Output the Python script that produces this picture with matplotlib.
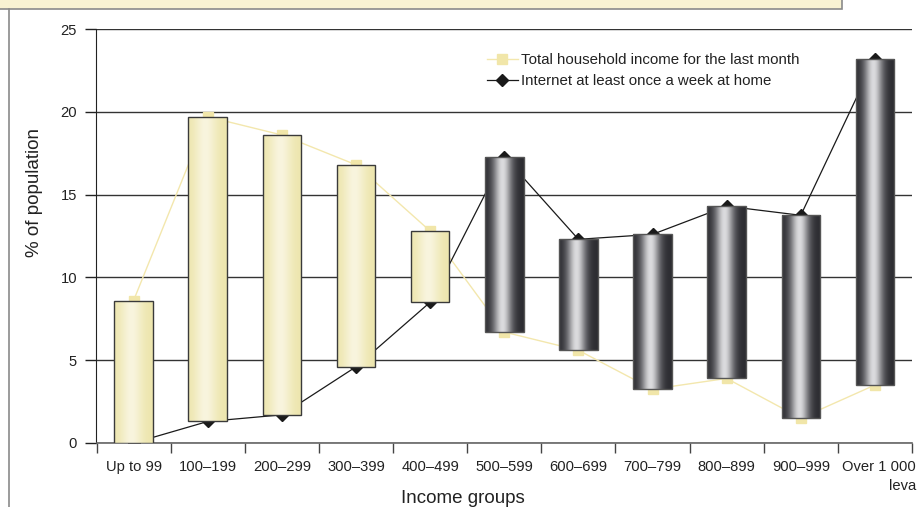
import numpy as np
import matplotlib
matplotlib.use("Agg")
import matplotlib.pyplot as plt
from matplotlib.patches import Rectangle
from matplotlib.lines import Line2D

plt.rcParams['font.family'] = ['Liberation Sans', 'DejaVu Sans']

# Income groups (leva per month)
categories = ["Up to 99", "100–199", "200–299", "300–399", "400–499", "500–599",
              "600–699", "700–799", "800–899", "900–999", "Over 1 000\nleva"]
# % of population by total household income for the last month
income_share = [8.6, 19.7, 18.6, 16.8, 12.8, 6.7, 5.6, 3.25, 3.9, 1.5, 3.5]
# % of population using the Internet at least once a week at home
internet_share = [0.0, 1.3, 1.7, 4.6, 8.5, 17.3, 12.3, 12.6, 14.3, 13.75, 23.2]

y_ticks = [0, 5, 10, 15, 20, 25]

fig = plt.figure(figsize=(9.2, 5.07), dpi=100)
ax = fig.add_axes([96.5 / 920, 1 - 443 / 507, 815.5 / 920, 414 / 507])

x = np.arange(len(categories))
inc = np.array(income_share)
net = np.array(internet_share)
lo = np.minimum(inc, net)
hi = np.maximum(inc, net)

# series lines and markers (behind the up/down bars)
ax.plot(x, inc, color='#f3e7ad', lw=1.0, marker='s', ms=7.5, mfc='#f1e6a9',
        mec='#f1e6a9', zorder=2)
ax.plot(x, net, color='#1a1a1a', lw=0.9, marker='D', ms=6.5, mfc='#1a1a1a',
        mec='#1a1a1a', zorder=2)

# up/down bars with horizontal shading
bw = 0.52
bars = ax.bar(x, hi - lo, bottom=lo, width=bw, facecolor='none',
              edgecolor='#3a3a3a', lw=1.0, zorder=4)

t = np.linspace(0, 1, 256)
# light bar: soft yellow with paler centre
light_edge = np.array([0.93, 0.90, 0.68])
light_mid = np.array([0.975, 0.96, 0.87])
w_l = np.exp(-((t - 0.45) / 0.28) ** 2)
grad_light = light_edge[None, :] * (1 - w_l[:, None]) + light_mid[None, :] * w_l[:, None]
# dark bar: cylinder look
dark_edge = np.array([0.17, 0.17, 0.19])
dark_mid = np.array([0.86, 0.86, 0.87])
w_d = np.exp(-((t - 0.45) / 0.24) ** 2)
grad_dark = dark_edge[None, :] * (1 - w_d[:, None]) + dark_mid[None, :] * w_d[:, None]

for xi, b, l, h, up in zip(x, bars, lo, hi, net > inc):
    g = grad_dark if up else grad_light
    img = np.repeat(g[None, :, :], 2, axis=0)
    im = ax.imshow(img, extent=[xi - bw / 2, xi + bw / 2, l, h], aspect='auto',
                   interpolation='bilinear', zorder=3)
    im.set_clip_path(b)
    if up:
        b.set_edgecolor('#555555')

ax.set_xlim(-0.5, len(categories) - 0.5)
ax.set_ylim(0, 25)

# axes styling
for s in ['top', 'right']:
    ax.spines[s].set_visible(False)
ax.spines['left'].set_color('#222222')
ax.spines['bottom'].set_color('#666666')
ax.spines['bottom'].set_linewidth(1.2)
ax.set_yticks(y_ticks)
ax.yaxis.grid(True, color='#333333', lw=1.0)
ax.set_axisbelow(True)
ax.tick_params(axis='y', length=8, width=1, color='#222222', pad=6,
               labelsize=10.6, labelcolor='#222222')

ax.set_xticks(np.arange(-0.5, len(categories), 1.0))
ax.set_xticklabels([])
ax.set_xticks(x, minor=True)
ax.set_xticklabels(categories, minor=True, fontsize=10.6, color='#222222',
                   multialignment='right', va='top', linespacing=1.45)
ax.tick_params(axis='x', which='minor', length=0, pad=12)
ax.tick_params(axis='x', which='major', length=7, width=1, color='#444444')
for lab in ax.get_xticklabels(minor=True)[-1:]:
    lab.set_x(lab.get_position()[0])
    lab.set_transform(lab.get_transform() + matplotlib.transforms.ScaledTranslation(
        4 / 100, 0, fig.dpi_scale_trans))

ax.set_ylabel('% of population', fontsize=13.5, color='#222222')
ax.yaxis.set_label_coords(-0.0656, 0.604)
ax.set_xlabel('Income groups', fontsize=13.5, color='#222222', va='center')
ax.xaxis.set_label_coords(0.449, -0.133)

handles = [
    Line2D([], [], color='#f3e7ad', lw=1.0, marker='s', ms=7.5, mfc='#f1e6a9', mec='#f1e6a9'),
    Line2D([], [], color='#1a1a1a', lw=0.9, marker='D', ms=6.5, mfc='#1a1a1a', mec='#1a1a1a'),
]
ax.legend(handles, ['Total household income for the last month',
                    'Internet at least once a week at home'],
          loc='upper left', bbox_to_anchor=(0.479, 0.942), frameon=False,
          borderpad=0, borderaxespad=0, handlelength=2.05, handletextpad=0.2,
          labelspacing=0.45, fontsize=10.8, labelcolor='#222222')

# header strip and side rule
fig.patches.append(Rectangle((-0.01, 1 - 9 / 507), 842 / 920 + 0.01, 0.05,
                             transform=fig.transFigure, facecolor='#f8f2d2',
                             edgecolor='#8a8a8a', lw=1.2))
fig.add_artist(Line2D([8.5 / 920, 8.5 / 920], [0, 1 - 9 / 507],
                      transform=fig.transFigure, color='#8a8a8a', lw=1.2))

fig.savefig('out.png', dpi=100)
